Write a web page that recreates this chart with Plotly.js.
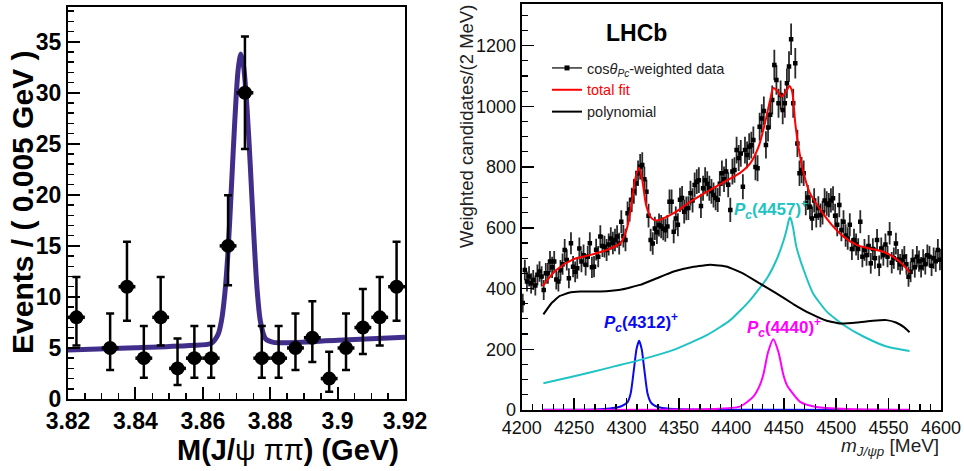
<!DOCTYPE html>
<html>
<head>
<meta charset="utf-8">
<script src="https://cdn.plot.ly/plotly-3.0.1.min.js"></script>
<style>html,body{margin:0;padding:0;background:#fff;}#chart{width:964px;height:471px;}</style>
</head>
<body>
<div id="chart"></div>
<script>
// ---------- Left panel: M(J/psi pi pi) ----------
const leftMass = [3.8225, 3.8325, 3.8375, 3.8425, 3.8475, 3.8525, 3.8575, 3.8625, 3.8675, 3.8725,
                  3.8775, 3.8825, 3.8875, 3.8925, 3.8975, 3.9025, 3.9075, 3.9125, 3.9175];
const leftEvents = [8, 5, 11, 4, 8, 3, 4, 4, 15, 30, 4, 4, 5, 6, 2, 5, 7, 8, 11];
const leftErrPlus  = [3.96, 3.38, 4.40, 3.16, 3.96, 2.92, 3.16, 3.16, 4.96, 5.5, 3.16, 3.16, 3.38, 3.58, 2.64, 3.38, 3.77, 3.96, 4.40];
const leftErrMinus = [2.77, 2.16, 3.34, 1.91, 2.77, 1.63, 1.91, 1.91, 3.85, 5.5, 1.91, 1.91, 2.16, 2.38, 1.29, 2.16, 2.58, 2.77, 3.34];
const leftBinHalfWidth = 0.0025;
const leftFitMass = [3.820, 3.840, 3.856, 3.8625, 3.8645, 3.8655, 3.8665, 3.8675, 3.8685, 3.8695, 3.8705,
                     3.8713, 3.8721, 3.8731, 3.8741, 3.8751, 3.8761, 3.8771, 3.8786, 3.8810, 3.900, 3.920];
const leftFitEvents = [4.80, 5.02, 5.25, 5.45, 6.3, 7.6, 10.2, 14.5, 20.8, 27.3, 32.3,
                       33.8, 32.6, 28.6, 22.8, 16.3, 10.8, 7.6, 5.9, 5.55, 5.75, 6.05];
const leftXTicks = [3.82, 3.84, 3.86, 3.88, 3.9, 3.92];

// ---------- Right panel: m(J/psi p) ----------
const rightBinStart = 4201;   // first bin centre [MeV]
const rightBinWidth = 2;      // MeV
const rightCounts = [
  352, 461, 423, 440, 417, 428, 410, 445, 456, 440,
  395, 450, 450, 489, 470, 489, 430, 423, 460, 480,
  527, 494, 434, 549, 472, 455, 467, 532, 489, 510,
  478, 505, 549, 470, 472, 528, 505, 571, 540, 538,
  527, 545, 565, 550, 560, 571, 548, 620, 572, 560,
  648, 660, 692, 720, 747, 780, 801, 807, 760, 719,
  640, 560, 548, 598, 585, 609, 604, 597, 592, 604,
  686, 686, 587, 631, 610, 692, 698, 653, 664, 665,
  714, 690, 741, 752, 757, 672, 730, 757, 745, 730,
  720, 708, 698, 692, 745, 780, 760, 785, 742, 659,
  785, 790, 856, 830, 845, 735, 856, 840, 867, 872,
  889, 800, 796, 933, 960, 985, 873, 930, 972, 1021,
  1136, 1087, 1010, 1037, 988, 1010, 1076, 1131, 1221, 1010,
  1142, 878, 780, 790, 780, 681, 700, 669, 631, 690,
  640, 665, 641, 650, 690, 680, 675, 690, 697, 640,
  610, 675, 593, 620, 575, 565, 610, 530, 560, 545,
  530, 620, 505, 527, 510, 540, 483, 530, 500, 560,
  475, 532, 510, 545, 505, 582, 485, 500, 548, 495,
  480, 494, 505, 480, 439, 455, 494, 470, 505, 490,
  470, 494, 480, 510, 505, 475, 500, 490, 527, 495
];
const rightErr = [
  31, 34, 33, 33, 33, 33, 33, 34, 34, 33,
  33, 34, 34, 35, 35, 35, 33, 33, 34, 35,
  36, 35, 33, 36, 35, 34, 35, 36, 35, 35,
  35, 35, 36, 35, 35, 36, 35, 37, 36, 36,
  36, 36, 37, 37, 37, 37, 36, 38, 37, 37,
  39, 39, 40, 41, 41, 42, 42, 42, 41, 40,
  39, 37, 37, 38, 38, 38, 38, 38, 38, 38,
  40, 40, 38, 39, 38, 40, 40, 39, 39, 39,
  41, 40, 41, 41, 42, 40, 41, 42, 41, 41,
  41, 41, 40, 40, 41, 42, 42, 42, 41, 40,
  42, 42, 44, 43, 44, 41, 44, 44, 44, 44,
  45, 43, 43, 46, 47, 47, 45, 46, 47, 48,
  50, 49, 48, 48, 47, 48, 49, 50, 52, 48,
  50, 45, 42, 43, 42, 40, 41, 40, 39, 40,
  39, 39, 39, 39, 40, 40, 40, 40, 40, 39,
  38, 40, 37, 38, 37, 37, 38, 36, 37, 36,
  36, 38, 35, 36, 35, 36, 34, 36, 35, 36,
  34, 36, 35, 36, 35, 37, 35, 35, 36, 35,
  34, 35, 35, 34, 33, 34, 35, 34, 35, 35,
  34, 35, 34, 35, 35, 34, 35, 35, 36, 35
];
const totalFitMass = [4220, 4233, 4249, 4265, 4281, 4294, 4300, 4305, 4308, 4312, 4315, 4319, 4324, 4329,
  4345, 4361, 4377, 4392, 4408, 4418, 4426, 4432, 4437, 4440, 4443, 4448, 4453, 4455.5, 4458, 4461,
  4464, 4469, 4475, 4485, 4496, 4507, 4520, 4532, 4545, 4554, 4564, 4570];
const totalFitVal = [408, 461, 496, 510, 527, 549, 593, 681, 757, 798, 757, 670, 631, 624,
  648, 686, 719, 749, 780, 812, 867, 944, 1021, 1060, 1054, 1032, 1054, 1067, 1048, 944,
  867, 780, 714, 659, 609, 571, 543, 532, 521, 505, 478, 452];
const polyMass = [4220.7, 4228, 4236, 4245, 4256, 4275, 4294, 4313, 4329, 4345, 4364, 4380, 4396, 4411, 4427,
  4443, 4459, 4475, 4491, 4504, 4520, 4535, 4548, 4557, 4565, 4570];
const polyVal = [315, 350, 375, 386, 390, 390, 396, 412, 434, 456, 472, 478, 472, 450, 417,
  384, 349, 318, 294, 285, 288, 294, 296, 288, 272, 256];
const pc4457Mass = [4220.7, 4249, 4281, 4313, 4345, 4377, 4399, 4418, 4434, 4443, 4450, 4453, 4455, 4456,
  4457, 4459, 4462, 4469, 4478, 4491, 4507, 4526, 4548, 4570];
const pc4457Val = [88, 110, 137, 165, 198, 247, 296, 362, 434, 494, 560, 598, 628, 635,
  628, 598, 538, 461, 384, 324, 280, 242, 209, 194];
const pc4312Mass = [4220.7, 4270, 4284, 4292, 4298, 4301, 4304, 4307, 4309.5, 4312, 4314.5, 4317, 4320, 4323, 4326, 4332, 4345, 4360, 4420, 4570];
const pc4312Val = [0.5, 2, 5, 9, 18, 26, 55, 132, 200, 228, 200, 132, 55, 26, 16, 8, 3, 1.5, 0.5, 0];
const pc4440Mass = [4220.7, 4320, 4380, 4408, 4421, 4427, 4430.5, 4435, 4440, 4445, 4449.6, 4453, 4456, 4465.6, 4481, 4510, 4570];
const pc4440Val = [0, 1, 3, 11, 44, 80, 116, 190, 233, 190, 116, 82, 66, 27, 10, 3, 0.5];

const FONT = 'Liberation Sans, Arial, Helvetica, sans-serif';

const traces = [
  // left fit
  {x: leftFitMass, y: leftFitEvents, xaxis: 'x', yaxis: 'y', mode: 'lines', showlegend: false,
   line: {color: 'rgb(64,46,138)', width: 5, shape: 'spline', smoothing: 0.8}, hoverinfo: 'skip'},
  // left data
  {x: leftMass, y: leftEvents, xaxis: 'x', yaxis: 'y', mode: 'markers', showlegend: false,
   marker: {symbol: 'circle', size: 14, color: 'black'},
   error_y: {type: 'data', symmetric: false, array: leftErrPlus, arrayminus: leftErrMinus,
             thickness: 2.5, width: 4, color: 'black'},
   error_x: {type: 'constant', value: leftBinHalfWidth, thickness: 3.5, width: 0, color: 'black'}},
  // right curves
  {x: pc4312Mass, y: pc4312Val, xaxis: 'x2', yaxis: 'y2', mode: 'lines', showlegend: false,
   line: {color: '#0a0af0', width: 2, shape: 'spline', smoothing: 0.6}},
  {x: pc4440Mass, y: pc4440Val, xaxis: 'x2', yaxis: 'y2', mode: 'lines', showlegend: false,
   line: {color: '#ff00ff', width: 2, shape: 'spline', smoothing: 0.6}},
  {x: pc4457Mass, y: pc4457Val, xaxis: 'x2', yaxis: 'y2', mode: 'lines', showlegend: false,
   line: {color: '#1fc3c3', width: 2, shape: 'spline', smoothing: 0.5}},
  {x: polyMass, y: polyVal, xaxis: 'x2', yaxis: 'y2', mode: 'lines', showlegend: false,
   line: {color: 'black', width: 2, shape: 'spline', smoothing: 0.3}},
  // right data
  {x0: rightBinStart, dx: rightBinWidth, y: rightCounts, xaxis: 'x2', yaxis: 'y2', mode: 'markers', showlegend: false,
   marker: {symbol: 'square', size: 4.5, color: 'black'},
   error_y: {type: 'data', array: rightErr, thickness: 1.8, width: 0, color: '#2a2a2a'},
   error_x: {type: 'constant', value: rightBinWidth / 2, thickness: 1, width: 0, color: '#2a2a2a'}},
  {x: totalFitMass, y: totalFitVal, xaxis: 'x2', yaxis: 'y2', mode: 'lines', showlegend: false,
   line: {color: '#ff0000', width: 2, shape: 'spline', smoothing: 0.8}},
  // legend entries
  {x: [null], y: [null], xaxis: 'x2', yaxis: 'y2', mode: 'lines+markers', legendgroup: 'a',
   name: 'cos<i>θ</i><sub><i>Pc</i></sub>-weighted data',
   line: {color: '#333', width: 1.5}, marker: {symbol: 'square', size: 5, color: 'black'}},
  {x: [null], y: [null], xaxis: 'x2', yaxis: 'y2', mode: 'lines', legendgroup: 'b',
   name: '<span style="color:#ff0000">total fit</span>', line: {color: '#ff0000', width: 2}},
  {x: [null], y: [null], xaxis: 'x2', yaxis: 'y2', mode: 'lines', legendgroup: 'c',
   name: 'polynomial', line: {color: 'black', width: 2}}
];

const frameAxis = {showline: true, mirror: true, linecolor: 'black', linewidth: 2,
  showgrid: false, zeroline: false, ticks: 'inside', tickcolor: 'black'};

const layout = {
  width: 964, height: 471,
  margin: {l: 0, r: 0, t: 0, b: 0},
  paper_bgcolor: 'white', plot_bgcolor: 'white',
  font: {family: FONT, color: 'black'},
  xaxis: Object.assign({}, frameAxis, {
    domain: [68 / 964, 405 / 964], range: [3.82, 3.92], anchor: 'y',
    tickmode: 'array', tickvals: leftXTicks, ticklen: 12, tickwidth: 2,
    minor: {dtick: 0.005, tick0: 3.82, ticks: 'inside', ticklen: 6, tickwidth: 1.5, tickcolor: 'black', showgrid: false},
    tickfont: {family: FONT, size: 23, weight: 'bold', color: 'black'}
  }),
  yaxis: Object.assign({}, frameAxis, {
    domain: [1 - 399 / 471, 1 - 7 / 471], range: [0, 38.4], anchor: 'x',
    dtick: 5, tick0: 0, ticklen: 12, tickwidth: 2,
    minor: {dtick: 1, ticks: 'inside', ticklen: 6, tickwidth: 1.5, tickcolor: 'black', showgrid: false},
    tickfont: {family: FONT, size: 23, weight: 'bold', color: 'black'}
  }),
  xaxis2: Object.assign({}, frameAxis, {
    domain: [521.7 / 964, 941 / 964], range: [4200, 4600], anchor: 'y2',
    dtick: 50, tick0: 4200, ticklen: 12, tickwidth: 1.5,
    minor: {dtick: 10, ticks: 'inside', ticklen: 6, tickwidth: 1.2, tickcolor: 'black', showgrid: false},
    tickfont: {family: FONT, size: 18, color: '#111'}
  }),
  yaxis2: Object.assign({}, frameAxis, {
    domain: [1 - 410 / 471, 1 - 4 / 471], range: [0, 1337], anchor: 'x2',
    dtick: 200, tick0: 0, ticklen: 12, tickwidth: 1.5,
    minor: {dtick: 50, ticks: 'inside', ticklen: 6, tickwidth: 1.2, tickcolor: 'black', showgrid: false},
    tickfont: {family: FONT, size: 18, color: '#111'}
  }),
  showlegend: true,
  legend: {x: 547 / 964, y: 1 - 52 / 471, xanchor: 'left', yanchor: 'top',
    bgcolor: 'rgba(0,0,0,0)', borderwidth: 0, tracegroupgap: 10, traceorder: 'normal',
    font: {family: FONT, size: 14.5, color: '#222'}},
  annotations: [
    {text: 'Events / ( 0.005 GeV )', xref: 'paper', yref: 'paper', x: 22 / 964, y: 1 - 203 / 471,
     textangle: -90, showarrow: false, xanchor: 'center', yanchor: 'middle',
     font: {family: FONT, size: 30, weight: 'bold', color: 'black'}},
    {text: 'M(J/<span style="font-weight:normal">ψ ππ</span>) (GeV)', xref: 'paper', yref: 'paper',
     x: 401 / 964, y: 1 - 450 / 471, showarrow: false, xanchor: 'right', yanchor: 'middle',
     font: {family: FONT, size: 29, weight: 'bold', color: 'black'}},
    {text: 'Weighted candidates/(2 MeV)', xref: 'paper', yref: 'paper', x: 467 / 964, y: 1 - 127 / 471,
     textangle: -90, showarrow: false, xanchor: 'center', yanchor: 'middle',
     font: {family: FONT, size: 18.5, color: '#222'}},
    {text: '<i>m</i><sub><i>J/ψp</i></sub> [MeV]', xref: 'paper', yref: 'paper',
     x: 941 / 964, y: 1 - 447 / 471, showarrow: false, xanchor: 'right', yanchor: 'middle',
     font: {family: FONT, size: 19, color: '#222'}},
    {text: '<b>LHCb</b>', xref: 'paper', yref: 'paper', x: 636 / 964, y: 1 - 33 / 471,
     showarrow: false, xanchor: 'center', yanchor: 'middle',
     font: {family: FONT, size: 23, color: 'black'}},
    {text: '<b><i>P</i><sub><i>c</i></sub>(4457)<sup>+</sup></b>', xref: 'x2', yref: 'y2', x: 4438, y: 659,
     showarrow: false, xanchor: 'center', yanchor: 'middle', font: {family: FONT, size: 17, color: '#1fc3c3'}},
    {text: '<b><i>P</i><sub><i>c</i></sub>(4312)<sup>+</sup></b>', xref: 'x2', yref: 'y2', x: 4314, y: 287,
     showarrow: false, xanchor: 'center', yanchor: 'middle', font: {family: FONT, size: 17, color: '#0a0af0'}},
    {text: '<b><i>P</i><sub><i>c</i></sub>(4440)<sup>+</sup></b>', xref: 'x2', yref: 'y2', x: 4450, y: 273,
     showarrow: false, xanchor: 'center', yanchor: 'middle', font: {family: FONT, size: 17, color: '#ff00ff'}}
  ]
};

Plotly.newPlot('chart', traces, layout, {staticPlot: true, displayModeBar: false});
</script>
</body>
</html>
